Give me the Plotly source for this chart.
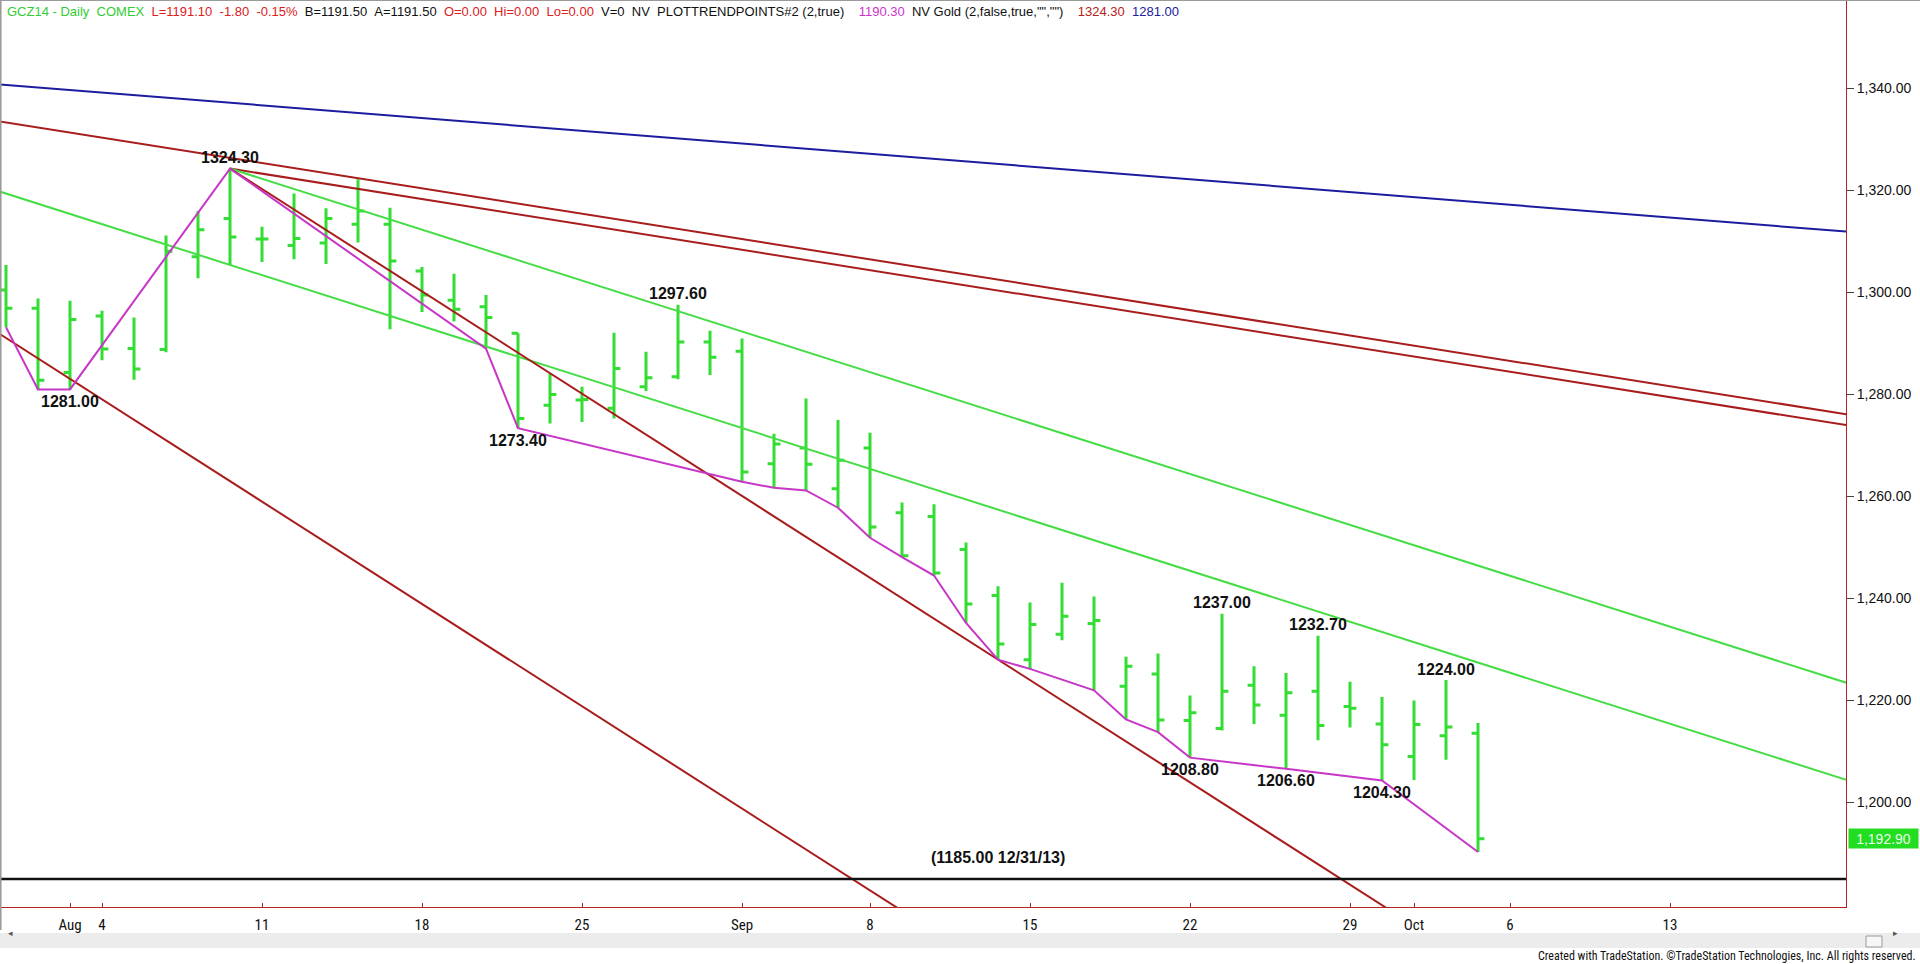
import plotly.graph_objects as go

# ---------------- data ----------------
dates = ["2014-07-30", "2014-07-31", "2014-08-01", "2014-08-04", "2014-08-05", "2014-08-06",
         "2014-08-07", "2014-08-08", "2014-08-11", "2014-08-12", "2014-08-13", "2014-08-14",
         "2014-08-15", "2014-08-18", "2014-08-19", "2014-08-20", "2014-08-21", "2014-08-22",
         "2014-08-25", "2014-08-26", "2014-08-27", "2014-08-28", "2014-08-29", "2014-09-02",
         "2014-09-03", "2014-09-04", "2014-09-05", "2014-09-08", "2014-09-09", "2014-09-10",
         "2014-09-11", "2014-09-12", "2014-09-15", "2014-09-16", "2014-09-17", "2014-09-18",
         "2014-09-19", "2014-09-22", "2014-09-23", "2014-09-24", "2014-09-25", "2014-09-26",
         "2014-09-29", "2014-09-30", "2014-10-01", "2014-10-02", "2014-10-03"]
opens = [1300.5, 1296.9, 1284.3, 1295.4, 1289.0, 1288.8, 1307.0, 1314.5, 1310.5, 1309.2,
         1309.7, 1313.4, 1313.4, 1304.2, 1298.5, 1297.2, 1292.0, 1277.9, 1278.9, 1277.3,
         1281.5, 1283.5, 1290.3, 1288.5, 1266.4, 1269.5, 1261.5, 1269.5, 1256.8, 1256.1,
         1249.6, 1240.6, 1228.0, 1233.0, 1235.1, 1222.8, 1225.2, 1216.1, 1214.5, 1223.0,
         1217.1, 1221.8, 1218.8, 1215.4, 1209.0, 1213.1, 1213.6]
highs = [1305.4, 1298.8, 1298.4, 1296.4, 1295.1, 1311.2, 1316.0, 1324.3, 1312.9, 1319.4,
         1316.5, 1322.2, 1316.6, 1305.0, 1303.7, 1299.5, 1292.0, 1284.1, 1281.5, 1292.1,
         1288.4, 1297.6, 1292.5, 1291.0, 1272.3, 1279.2, 1275.0, 1272.5, 1258.8, 1258.5,
         1251.0, 1242.4, 1239.2, 1243.1, 1240.4, 1228.6, 1229.2, 1221.0, 1237.0, 1226.7,
         1225.4, 1232.7, 1223.7, 1220.7, 1220.0, 1224.0, 1215.6]
lows = [1293.2, 1281.0, 1281.0, 1286.7, 1282.9, 1288.3, 1302.8, 1305.4, 1306.0, 1306.5,
        1305.6, 1309.8, 1292.8, 1296.2, 1294.3, 1289.0, 1273.4, 1274.3, 1274.6, 1275.3,
        1280.7, 1283.0, 1283.8, 1262.9, 1261.7, 1261.2, 1257.8, 1251.9, 1248.1, 1244.5,
        1235.2, 1228.0, 1226.2, 1231.8, 1222.0, 1216.3, 1213.8, 1208.8, 1214.1, 1215.4,
        1206.6, 1212.2, 1214.7, 1204.3, 1204.4, 1208.4, 1190.3]
closes = [1296.9, 1282.8, 1294.7, 1288.9, 1285.0, 1308.1, 1312.3, 1310.9, 1310.5, 1310.6,
          1314.5, 1316.0, 1306.2, 1299.5, 1296.7, 1295.1, 1275.3, 1280.0, 1279.0, 1285.1,
          1283.3, 1290.3, 1287.3, 1264.8, 1270.3, 1266.3, 1267.1, 1254.0, 1248.4, 1245.0,
          1238.9, 1231.1, 1234.9, 1236.5, 1235.7, 1226.7, 1216.2, 1217.6, 1221.8, 1219.1,
          1221.5, 1215.1, 1218.5, 1211.3, 1215.3, 1214.8, 1192.9]

# PLOTTRENDPOINTS line
trend_dates = ["2014-07-30", "2014-07-31", "2014-08-01", "2014-08-08", "2014-08-20", "2014-08-21",
               "2014-09-02", "2014-09-03", "2014-09-04", "2014-09-05", "2014-09-08", "2014-09-09",
               "2014-09-10", "2014-09-11", "2014-09-12", "2014-09-15", "2014-09-17", "2014-09-18",
               "2014-09-19", "2014-09-22", "2014-09-25", "2014-09-30", "2014-10-03"]
trend_vals = [1293.2, 1281.0, 1281.0, 1324.3, 1289.0, 1273.4, 1262.9, 1261.7, 1261.2, 1257.8,
              1251.9, 1248.1, 1244.5, 1235.2, 1228.0, 1226.2, 1222.0, 1216.3, 1213.8, 1208.8,
              1206.6, 1204.3, 1190.3]

# swing labels
high_label_dates = ["2014-08-08", "2014-08-28", "2014-09-23", "2014-09-26", "2014-10-02"]
high_label_vals = [1324.30, 1297.60, 1237.00, 1232.70, 1224.00]
low_label_dates = ["2014-08-01", "2014-08-21", "2014-09-22", "2014-09-25", "2014-09-30"]
low_label_vals = [1281.00, 1273.40, 1208.80, 1206.60, 1204.30]

# drawn trend lines (two anchor points each; clipped by the axes)
blue_dates, blue_vals = ["2014-07-29", "2014-10-21"], [1341.2, 1311.7]
red_upper_dates, red_upper_vals = ["2014-07-29", "2014-10-21"], [1334.35, 1275.65]
red_lower_dates, red_lower_vals = ["2014-08-08", "2014-10-21"], [1324.3, 1273.5]
red_steep_dates, red_steep_vals = ["2014-08-08", "2014-10-21"], [1324.3, 1119.7]
red_steep2_dates, red_steep2_vals = ["2014-07-29", "2014-10-21"], [1295.1, 1058.4]
green_upper_dates, green_upper_vals = ["2014-08-08", "2014-10-21"], [1324.3, 1222.5]
green_lower_dates, green_lower_vals = ["2014-07-29", "2014-10-21"], [1321.4, 1203.45]
support_dates, support_vals = ["2014-07-29", "2014-10-21"], [1185.0, 1185.0]
support_label = "(1185.00 12/31/13)"
support_label_date = "2014-09-12"

tick_dates = ["2014-08-01", "2014-08-04", "2014-08-11", "2014-08-18", "2014-08-25", "2014-09-02",
              "2014-09-08", "2014-09-15", "2014-09-22", "2014-09-29", "2014-10-01", "2014-10-06",
              "2014-10-13"]
tick_labels = ["Aug", "4", "11", "18", "25", "Sep", "8", "15", "22", "29", "Oct", "6", "13"]
price_ticks = [1200, 1220, 1240, 1260, 1280, 1300, 1320, 1340]
last_price = 1192.90

# ---------------- styles ----------------
BAR_GREEN = "#33dd33"
LINE_GREEN = "#44dd44"
DARK_RED = "#a81c1c"
AXIS_RED = "#b42222"
BLUE = "#1c1ca0"
MAGENTA = "#c836c8"
FONT = "Arial, Liberation Sans, sans-serif"
NARROW = "Liberation Sans Narrow, Arial Narrow, Roboto Condensed, DejaVu Sans Condensed, sans-serif"

fig = go.Figure()

fig.add_trace(go.Ohlc(
    x=dates, open=opens, high=highs, low=lows, close=closes,
    increasing=dict(line=dict(color=BAR_GREEN, width=3)),
    decreasing=dict(line=dict(color=BAR_GREEN, width=3)),
    tickwidth=0.2, showlegend=False, hoverinfo="skip"))

def add_line(xs, ys, color, width=2):
    fig.add_trace(go.Scatter(x=xs, y=ys, mode="lines", line=dict(color=color, width=width),
                             showlegend=False, hoverinfo="skip"))

add_line(blue_dates, blue_vals, BLUE)
add_line(red_upper_dates, red_upper_vals, DARK_RED)
add_line(red_lower_dates, red_lower_vals, DARK_RED)
add_line(green_upper_dates, green_upper_vals, LINE_GREEN)
add_line(green_lower_dates, green_lower_vals, LINE_GREEN)
add_line(red_steep_dates, red_steep_vals, DARK_RED)
add_line(red_steep2_dates, red_steep2_vals, DARK_RED)
add_line(support_dates, support_vals, "#111111", 2.5)
add_line(trend_dates, trend_vals, MAGENTA)

annotations = []
for d, v in zip(high_label_dates, high_label_vals):
    annotations.append(dict(x=d, y=v, xref="x", yref="y", text=f"{v:.2f}", showarrow=False,
                            yanchor="middle", yshift=11,
                            font=dict(family=FONT, size=16, color="#111111", weight="bold")))
for d, v in zip(low_label_dates, low_label_vals):
    annotations.append(dict(x=d, y=v, xref="x", yref="y", text=f"{v:.2f}", showarrow=False,
                            yanchor="middle", yshift=-12,
                            font=dict(family=FONT, size=16, color="#111111", weight="bold")))
annotations.append(dict(x=support_label_date, y=support_vals[0], xref="x", yref="y",
                        text=support_label, showarrow=False, yanchor="middle", yshift=22,
                        font=dict(family=FONT, size=16, color="#111111", weight="bold")))

# header
sp = "&nbsp;&nbsp;"
header = (f'<span style="color:#33cc33">GCZ14 - Daily{sp}COMEX</span>{sp}'
          f'<span style="color:#dd2020">L=1191.10{sp}-1.80{sp}-0.15%</span>{sp}'
          f'<span style="color:#111111">B=1191.50{sp}A=1191.50</span>{sp}'
          f'<span style="color:#dd2020">O=0.00{sp}Hi=0.00{sp}Lo=0.00</span>{sp}'
          f'<span style="color:#111111">V=0{sp}NV{sp}PLOTTRENDPOINTS#2 (2,true)</span>{sp}{sp}'
          f'<span style="color:#cc33cc">1190.30</span>{sp}'
          f'<span style="color:#111111">NV Gold (2,false,true,"","")</span>{sp}{sp}'
          f'<span style="color:#b82020">1324.30</span>{sp}'
          f'<span style="color:#2020a0">1281.00</span>')
annotations.append(dict(x=0, y=1, xref="paper", yref="paper", xanchor="left", yanchor="top",
                        xshift=5, yshift=-2, text=header, showarrow=False,
                        font=dict(family=FONT, size=13, color="#111111")))

# last price marker on axis
annotations.append(dict(x=1, y=last_price, xref="paper", yref="y", xanchor="left",
                        yanchor="middle", xshift=2, text=f"{last_price:,.2f}", showarrow=False,
                        bgcolor="#22dd22", width=67, height=17, borderpad=1,
                        font=dict(family=FONT, size=14, color="#eaffea")))

# footer
annotations.append(dict(x=1918 / 1846, y=-(956 - 907) / 907, xref="paper", yref="paper",
                        xanchor="right", yanchor="middle",
                        text="Created with TradeStation. ©TradeStation Technologies, Inc. All rights reserved.",
                        showarrow=False, font=dict(family=NARROW, size=12, color="#111111")))
annotations.append(dict(x=6 / 1846, y=-(941 - 907) / 907, xref="paper", yref="paper",
                        text="◂", showarrow=False, font=dict(size=9, color="#555555")))
annotations.append(dict(x=1900 / 1846, y=-(941 - 907) / 907, xref="paper", yref="paper",
                        text="▸", showarrow=False, font=dict(size=9, color="#555555")))

shapes = [
    # scrollbar band
    dict(type="rect", xref="paper", yref="paper", x0=0, x1=1920 / 1846,
         y0=-(933 - 907) / 907, y1=-(948 - 907) / 907,
         fillcolor="#ececec", line=dict(width=0), layer="below"),
    dict(type="rect", xref="paper", yref="paper", x0=1866 / 1846, x1=1882 / 1846,
         y0=-(936 - 907) / 907, y1=-(947 - 907) / 907,
         fillcolor="#f6f6f6", line=dict(width=1, color="#9a9a9a")),
    # window borders
    dict(type="line", xref="paper", yref="paper", x0=0.0003, x1=0.0003, y0=1, y1=-(930 - 907) / 907,
         line=dict(color="#9a9a9a", width=2)),
    dict(type="line", xref="paper", yref="paper", x0=0, x1=1920 / 1846, y0=1, y1=1,
         line=dict(color="#9a9a9a", width=2)),
]

top_price = 1200 + 802.5 / 5.1
bottom_price = 1200 - 104.5 / 5.1

fig.update_layout(
    width=1920, height=964, autosize=False,
    margin=dict(l=0, r=74, t=0, b=57, pad=0),
    paper_bgcolor="white", plot_bgcolor="white",
    showlegend=False,
    annotations=annotations, shapes=shapes,
    xaxis=dict(type="date", range=["2014-07-29 19:30", "2014-10-20 12:00"],
               rangebreaks=[dict(bounds=["sat", "mon"]), dict(values=["2014-09-01"])],
               rangeslider=dict(visible=False),
               tickmode="array", tickvals=tick_dates, ticktext=tick_labels,
               ticks="inside", ticklen=4, tickwidth=1, tickcolor=AXIS_RED,
               showline=True, linecolor=AXIS_RED, linewidth=1,
               showgrid=False, zeroline=False, ticklabelstandoff=4,
               tickfont=dict(family=NARROW, size=15, color="#111111")),
    yaxis=dict(side="right", range=[bottom_price, top_price],
               tickmode="array", tickvals=price_ticks, tickformat=",.2f",
               ticks="outside", ticklen=7, tickwidth=1, tickcolor="#444444",
               showline=True, linecolor=AXIS_RED, linewidth=1,
               showgrid=False, zeroline=False,
               tickfont=dict(family=FONT, size=14, color="#111111")),
)

fig.write_html("out.html", config={"displayModeBar": False},
               post_script="document.body.style.margin='0';document.body.style.overflow='hidden';")
